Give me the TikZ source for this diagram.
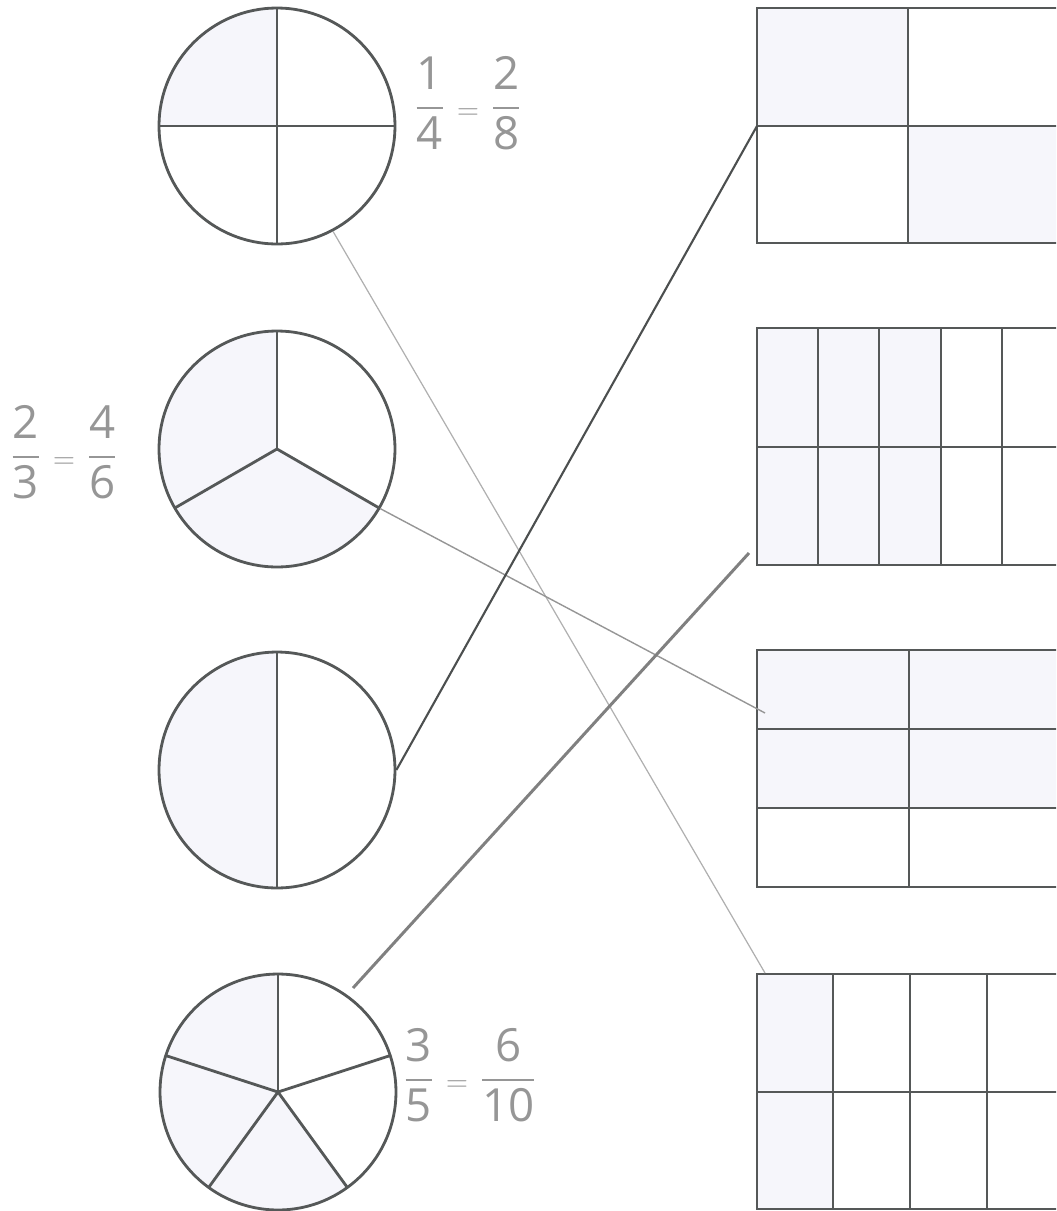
\documentclass[tikz,border=0pt]{standalone}
\usepackage{amsmath}
\usepackage{fontspec}
\setsansfont{Open Sans}
\usepackage{tikz}
\usepackage{xcolor}

\definecolor{ink}{RGB}{85,88,88}
\definecolor{pencil}{RGB}{150,150,150}
\definecolor{tint}{RGB}{246,246,251}

\newcommand{\hf}[2]{\dfrac{\textsf{#1}}{\textsf{#2}}}

\begin{document}
\begin{tikzpicture}[x=0.02cm,y=0.02cm,
  pie/.style={circle,draw=ink,line width=1.6pt,minimum size=4.72cm,inner sep=0pt},
  part/.style={draw=ink,line width=1.6pt},
  note/.style={text=pencil,font=\fontsize{26}{30}\selectfont}]

% Parameters for drawing only
\def\R{118}
\def\E{1075}

\useasboundingbox (0,0) rectangle (1056,-1211);
\clip (0,0) rectangle (1056,-1211);

% Centres of the circles
\coordinate (o1) at (277,-126);
\coordinate (o2) at (277,-449);
\coordinate (o3) at (277,-770);
\coordinate (o4) at (278,-1092);

% Shaded parts of the circles
\fill[tint] (o1) -- ++(90:\R) arc (90:180:\R) -- cycle;
\fill[tint] (o2) -- ++(90:\R) arc (90:330:\R) -- cycle;
\fill[tint] (o3) -- ++(90:\R) arc (90:270:\R) -- cycle;
\fill[tint] (o4) -- ++(90:\R) arc (90:306:\R) -- cycle;

% Circles
\node[pie] (c1) at (o1) {};
\node[pie] (c2) at (o2) {};
\node[pie] (c3) at (o3) {};
\node[pie] (c4) at (o4) {};

% Quarters
\draw[part] (o1) ++(0,\R) -- ++(0,-2*\R);
\draw[part] (o1) ++(-\R,0) -- ++(2*\R,0);

% Thirds
\foreach \a in {90,210,330}
  \draw[part] (o2) -- ++(\a:\R);

% Halves
\draw[part] (o3) ++(0,\R) -- ++(0,-2*\R);

% Fifths
\foreach \a in {18,90,162,234,306}
  \draw[part] (o4) -- ++(\a:\R);

% First grid: 2 x 2
\fill[tint] (757,-8) rectangle (908,-126);
\fill[tint] (908,-126) rectangle (\E,-243);
\draw[part] (757,-8) rectangle (\E,-243);
\draw[part] (908,-8) -- (908,-243);
\draw[part] (757,-126) -- (\E,-126);

% Second grid: 5 columns, 2 rows
\fill[tint] (757,-328) rectangle (941,-565);
\draw[part] (757,-328) rectangle (\E,-565);
\foreach \x in {818,879,941,1002}
  \draw[part] (\x,-328) -- (\x,-565);
\draw[part] (757,-447) -- (\E,-447);

% Third grid: 2 columns, 3 rows
\fill[tint] (757,-650) rectangle (\E,-808);
\draw[part] (757,-650) rectangle (\E,-887);
\draw[part] (909,-650) -- (909,-887);
\foreach \y in {729,808}
  \draw[part] (757,-\y) -- (\E,-\y);

% Fourth grid: 4 columns, 2 rows
\fill[tint] (757,-974) rectangle (833,-1209);
\draw[part] (757,-974) rectangle (\E,-1209);
\foreach \x in {833,910,987}
  \draw[part] (\x,-974) -- (\x,-1209);
\draw[part] (757,-1092) -- (\E,-1092);

% Ends of the matching lines
\coordinate (g1) at (757,-126);
\coordinate (g2) at (749,-553);
\coordinate (g3) at (765,-713);
\coordinate (g4) at (765,-973);
\coordinate (s4) at (353,-988);

% Matching lines
\draw[pencil!75, line width=0.7pt] (c1.-62) -- (g4);
\draw[pencil, line width=0.8pt] (c2.-30) -- (g3);
\draw[ink!90!black, line width=1.2pt] (c3.east) -- (g1);
\draw[gray, line width=1.7pt] (s4) -- (g2);

% Equal fractions
\node[note] (n1) at (468,-103) {$\hf{1}{4}\mathrel{\scriptstyle=}\hf{2}{8}$};
\node[note] (n2) at (64,-452) {$\hf{2}{3}\mathrel{\scriptstyle=}\hf{4}{6}$};
\node[note] (n3) at (470,-1075) {$\hf{3}{5}\mathrel{\scriptstyle=}\hf{6}{10}$};

\end{tikzpicture}
\end{document}
